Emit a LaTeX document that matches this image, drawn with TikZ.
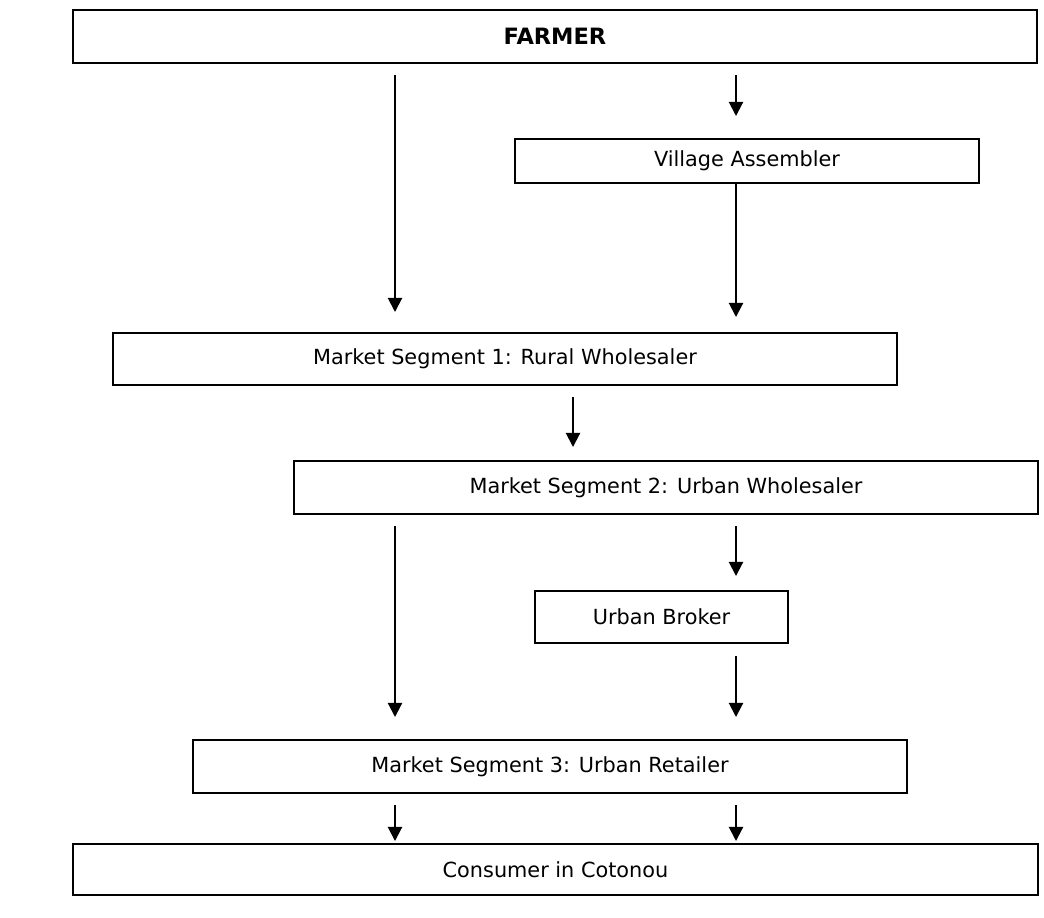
\documentclass[tikz,border=0pt]{standalone}
\usepackage{fontspec}
\setmainfont{DejaVu Sans}
\usetikzlibrary{arrows.meta,positioning}

\begin{document}
\begin{tikzpicture}[x=0.025cm, y=-0.025cm,
    box/.style={rectangle, draw=black, line width=1.4pt, inner sep=0pt,
                align=center, font=\fontsize{14.8}{17}\selectfont},
    arrow/.style={-{Triangle[width=10pt,length=10pt]}, line width=1.4pt}]

\useasboundingbox (0,0) rectangle (1044,917);

\node[box, minimum width=24.1cm, minimum height=1.325cm] (farmer) at (555,36.5) {\fontsize{16}{18}\selectfont\textbf{FARMER}};
\node[box, minimum width=11.6cm, minimum height=1.1cm] (vill) at (747,161) {Village Assembler};
\node[box, minimum width=19.6cm, minimum height=1.3cm] (seg1) at (505,359) {Market Segment 1: Rural Wholesaler};
\node[box, minimum width=18.6cm, minimum height=1.325cm] (seg2) at (666,487.5) {Market Segment 2: Urban Wholesaler};
\node[box, minimum width=6.325cm, minimum height=1.3cm] (brok) at (661.5,617) {Urban Broker};
\node[box, minimum width=17.85cm, minimum height=1.325cm] (seg3) at (550,766.5) {Market Segment 3: Urban Retailer};
\node[box, minimum width=24.125cm, minimum height=1.275cm] (cons) at (555.5,869.5) {Consumer in Cotonou};

% columns of the arrows
\coordinate (lcol) at (395,0);
\coordinate (mcol) at (573,0);
\coordinate (rcol) at (736,0);

\draw[arrow, shorten <=0.275cm, shorten >=0.5cm] (farmer.south -| lcol) -- (seg1.north -| lcol);
\draw[arrow, shorten <=0.275cm, shorten >=0.55cm] (farmer.south -| rcol) -- (vill.north -| rcol);
\draw[arrow, shorten >=0.375cm] (vill.south -| rcol) -- (seg1.north -| rcol);
\draw[arrow, shorten <=0.275cm, shorten >=0.325cm] (seg1.south -| mcol) -- (seg2.north -| mcol);
\draw[arrow, shorten <=0.275cm, shorten >=0.55cm] (seg2.south -| lcol) -- (seg3.north -| lcol);
\draw[arrow, shorten <=0.275cm, shorten >=0.35cm] (seg2.south -| rcol) -- (brok.north -| rcol);
\draw[arrow, shorten <=0.3cm, shorten >=0.55cm] (brok.south -| rcol) -- (seg3.north -| rcol);
\draw[arrow, shorten <=0.275cm, shorten >=0.05cm] (seg3.south -| lcol) -- (cons.north -| lcol);
\draw[arrow, shorten <=0.275cm, shorten >=0.05cm] (seg3.south -| rcol) -- (cons.north -| rcol);
\end{tikzpicture}
\end{document}
